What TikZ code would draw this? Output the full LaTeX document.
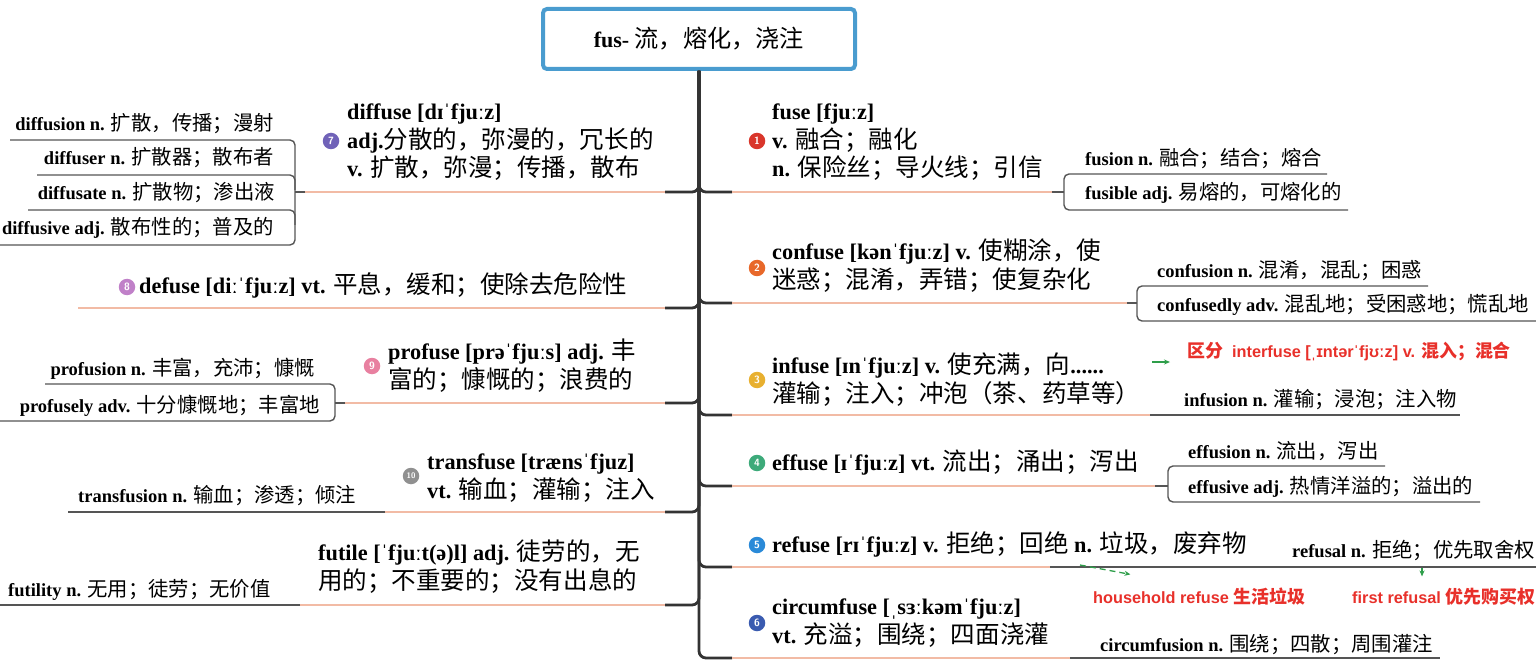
\documentclass[tikz,border=0pt]{standalone}
\usepackage{fontspec}
\usepackage{xcolor}
\usetikzlibrary{arrows.meta}
\setmainfont{Liberation Serif}
\newfontfamily\cjk{Noto Sans CJK SC}[Scale=1.1]
\newfontfamily\notesans{Liberation Sans}
\newcommand{\zh}[1]{{\cjk\mdseries #1}}
\newcommand{\zhb}[1]{{\cjk\bfseries #1}}

\definecolor{rootblue}{HTML}{4A9CCF}
\definecolor{spinegray}{HTML}{333333}
\definecolor{salmon}{HTML}{F2BBA5}
\definecolor{subgray}{HTML}{555555}
\definecolor{notered}{HTML}{E8302A}
\definecolor{notegreen}{HTML}{2E9E4A}
\definecolor{c1}{HTML}{D9362B}
\definecolor{c2}{HTML}{E8682A}
\definecolor{c3}{HTML}{E8B030}
\definecolor{c4}{HTML}{3DAA7A}
\definecolor{c5}{HTML}{2A8AD8}
\definecolor{c6}{HTML}{3A5BB0}
\definecolor{c7}{HTML}{7062B8}
\definecolor{c8}{HTML}{C080C8}
\definecolor{c9}{HTML}{E880A0}
\definecolor{c10}{HTML}{909090}

\tikzset{
  rootbox/.style={draw=rootblue, line width=4pt, rounded corners=4pt, minimum width=312pt,
    minimum height=60pt, font=\bfseries\fontsize{22}{24}\selectfont},
  word/.style={inner sep=0pt, anchor=base west, align=left, font=\bfseries\fontsize{22.3}{28.5}\selectfont},
  deriv/.style={inner sep=0pt, font=\bfseries\fontsize{18.5}{21}\selectfont},
  note/.style={inner sep=0pt, anchor=base west, text=notered, font=\notesans\bfseries\fontsize{16.3}{19}\selectfont},
  spine/.style={draw=spinegray, line width=2.8pt, rounded corners=7pt},
  uline/.style={draw=salmon, line width=1.8pt},
  subline/.style={draw=subgray, line width=1.4pt, rounded corners=5pt},
  garrow/.style={draw=notegreen, line width=1.3pt, -{Stealth[length=6pt,width=5pt]}},
  badge/.style={circle, fill=#1, text=white, inner sep=0pt, minimum size=16.5pt,
    font=\sffamily\bfseries\fontsize{10.5}{10.5}\selectfont}
}

\begin{document}
\begin{tikzpicture}[x=1pt, y=-1pt]
	\useasboundingbox (0,0) rectangle (1536,668);
	% Root
	\node[rootbox] (root) at (699,39) {fus- \zh{流，熔化，浇注}};

	% Right branches (multi-line nodes sit on their last line)
	\node[word] (fuse) at (772,177) {fuse [fjuːz]\\v. \zh{融合；融化}\\n. \zh{保险丝；导火线；引信}};
	\node[badge=c1] (b1) at (757,141) {1};
	\node[word] (confuse) at (772,288) {confuse [kənˈfjuːz] v. \zh{使糊涂，使}\\\zh{迷惑；混淆，弄错；使复杂化}};
	\node[badge=c2] (b2) at (757,268) {2};
	\node[word] (infuse) at (772,402) {infuse [ɪnˈfjuːz] v. \zh{使充满，向}......\\\zh{灌输；注入；冲泡（茶、药草等）}};
	\node[badge=c3] (b3) at (757,380) {3};
	\node[word] (effuse) at (772,470) {effuse [ɪˈfjuːz] vt. \zh{流出；涌出；泻出}};
	\node[badge=c4] (b4) at (757,463) {4};
	\node[word] (refuse) at (772,552) {refuse [rɪˈfjuːz] v. \zh{拒绝；回绝} n. \zh{垃圾，废弃物}};
	\node[badge=c5] (b5) at (757,545) {5};
	\node[word] (circumfuse) at (772,643) {circumfuse [ˌsɜːkəmˈfjuːz]\\vt. \zh{充溢；围绕；四面浇灌}};
	\node[badge=c6] (b6) at (757,623) {6};

	% Left branches
	\node[word] (diffuse) at (347,177) {diffuse [dɪˈfjuːz]\\adj.\zh{分散的，弥漫的，冗长的}\\v. \zh{扩散，弥漫；传播，散布}};
	\node[badge=c7] (b7) at (331,141) {7};
	\node[word] (defuse) at (139,294) {defuse [diːˈfjuːz] vt. \zh{平息，缓和；使除去危险性}};
	\node[badge=c8] (b8) at (127,287) {8};
	\node[word] (profuse) at (388,388) {profuse [prəˈfjuːs] adj. \zh{丰}\\\zh{富的；慷慨的；浪费的}};
	\node[badge=c9] (b9) at (372,366) {9};
	\node[word] (transfuse) at (427,498) {transfuse [trænsˈfjuz]\\vt. \zh{输血；灌输；注入}};
	\node[badge=c10, font=\sffamily\bfseries\fontsize{8}{8}\selectfont] (b10) at (411,476) {10};
	\node[word] (futile) at (318,589) {futile [ˈfjuːt(ə)l] adj. \zh{徒劳的，无}\\\zh{用的；不重要的；没有出息的}};

	% Derived words, right
	\node[deriv, anchor=base west] (fusion) at (1085,166) {fusion n. \zh{融合；结合；熔合}};
	\node[deriv, anchor=base west] (fusible) at (1085,200) {fusible adj. \zh{易熔的，可熔化的}};
	\node[deriv, anchor=base west] (confusion) at (1157,277) {confusion n. \zh{混淆，混乱；困惑}};
	\node[deriv, anchor=base west] (confusedly) at (1157,312) {confusedly adv. \zh{混乱地；受困惑地；慌乱地}};
	\node[deriv, anchor=base west] (infusion) at (1184,406) {infusion n. \zh{灌输；浸泡；注入物}};
	\node[deriv, anchor=base west] (effusion) at (1188,458) {effusion n. \zh{流出，泻出}};
	\node[deriv, anchor=base west] (effusive) at (1188,493) {effusive adj. \zh{热情洋溢的；溢出的}};
	\node[deriv, anchor=base west] (refusal) at (1292,557) {refusal n. \zh{拒绝；优先取舍权}};
	\node[deriv, anchor=base west] (circumfusion) at (1100,651) {circumfusion n. \zh{围绕；四散；周围灌注}};

	% Derived words, left
	\node[deriv, anchor=base east] (diffusion) at (274,131) {diffusion n. \zh{扩散，传播；漫射}};
	\node[deriv, anchor=base east] (diffuser) at (274,165) {diffuser n. \zh{扩散器；散布者}};
	\node[deriv, anchor=base east] (diffusate) at (275,200) {diffusate n. \zh{扩散物；渗出液}};
	\node[deriv, anchor=base east] (diffusive) at (274,235) {diffusive adj. \zh{散布性的；普及的}};
	\node[deriv, anchor=base east] (profusion) at (315,375) {profusion n. \zh{丰富，充沛；慷慨}};
	\node[deriv, anchor=base east] (profusely) at (320,412) {profusely adv. \zh{十分慷慨地；丰富地}};
	\node[deriv, anchor=base west] (transfusion) at (78,502) {transfusion n. \zh{输血；渗透；倾注}};
	\node[deriv, anchor=base west] (futility) at (8,596) {futility n. \zh{无用；徒劳；无价值}};

	% Notes
	\node[note] (interfuse) at (1187,357) {\zhb{区分}\ \ interfuse [ˌɪntərˈfjʊːz] v. \zhb{混入；混合}};
	\node[note] (household) at (1093,603) {household refuse \zhb{生活垃圾}};
	\node[note] (firstref) at (1352,603) {first refusal \zhb{优先购买权}};

	% Spine and underlines
	\foreach \y/\e in {192/1052, 303/1127, 415/1150, 486/1155, 567/1050, 658/1070} {
		\draw[spine] (root.south) |- (732,\y);
		\draw[uline] (732,\y) -- (\e,\y);
	}
	\foreach \y/\e in {192/305, 308/78, 403/345, 512/385, 605/300} {
		\draw[spine] (root.south) |- (665,\y);
		\draw[uline] (665,\y) -- (\e,\y);
	}

	% Brackets of derived words
	\draw[subline] (1052,192) -- (1064,192);
	\draw[subline] (1327,174) -- (1064,174) -- (1064,210) -- (1348,210);
	\draw[subline] (1127,303) -- (1137,303);
	\draw[subline] (1428,286) -- (1137,286) -- (1137,321) -- (1536,321);
	\draw[subline] (1150,415) -- (1460,415);
	\draw[subline] (1155,486) -- (1168,486);
	\draw[subline] (1385,466) -- (1168,466) -- (1168,502) -- (1480,502);
	\draw[subline] (1050,567) -- (1536,567);
	\draw[subline] (1070,658) -- (1440,658);

	\draw[subline] (305,192) -- (295,192);
	\draw[subline] (10,140) -- (295,140) -- (295,245) -- (0,245);
	\draw[subline] (37,175) -- (295,175) -- (295,190);
	\draw[subline] (28,210) -- (295,210) -- (295,225);
	\draw[subline] (345,403) -- (335,403);
	\draw[subline] (45,384) -- (335,384) -- (335,421) -- (0,421);
	\draw[subline] (385,512) -- (68,512);
	\draw[subline] (300,605) -- (0,605);

	% Green arrows
	\coordinate (g1) at (1152,362);
	\coordinate (g2) at (1080,565);
	\coordinate (g3) at (1422,568);
	\draw[garrow, shorten >=17pt] (g1) -- (g1 -| interfuse.west);
	\draw[garrow, dash pattern=on 6pt off 4pt, shorten >=70pt] (g2) -- (household.north);
	\draw[garrow, shorten >=11pt] (g3) -- (g3 |- firstref.north);
\end{tikzpicture}
\end{document}
